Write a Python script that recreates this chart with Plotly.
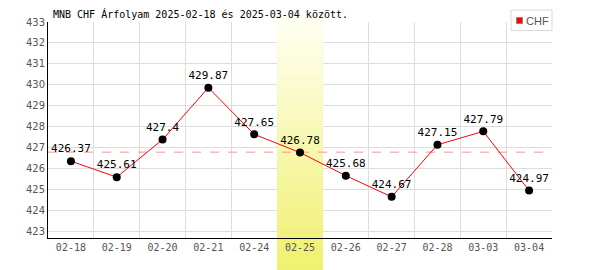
import plotly.graph_objects as go

dates = ["02-18", "02-19", "02-20", "02-21", "02-24", "02-25", "02-26", "02-27", "02-28", "03-03", "03-04"]
rates = [426.37, 425.61, 427.4, 429.87, 427.65, 426.78, 425.68, 424.67, 427.15, 427.79, 424.97]
labels = ["426.37", "425.61", "427.4", "429.87", "427.65", "426.78", "425.68", "424.67", "427.15", "427.79", "424.97"]
avg_rate = 426.8
highlight = "02-25"
y_ticks = list(range(423, 434))
y_range = [422.71, 433.0]
title_text = "MNB CHF Árfolyam 2025-02-18 és 2025-03-04 között."
series_name = "CHF"

W, H = 600, 270
L, R, T, B = 48, 48, 22, 32
PW, PH = W - L - R, H - T - B


def px_x(x):
    return (x - L) / PW


def px_y(y):
    return 1 - (y - T) / PH


def px_to_data_y(py):
    return y_range[0] + px_y(py) * (y_range[1] - y_range[0])


fig = go.Figure()
fig.add_trace(go.Scatter(
    x=dates, y=rates, mode="lines+markers+text",
    text=labels, textposition="top center",
    textfont=dict(family="DejaVu Sans Mono", size=11, color="black"),
    line=dict(color="red", width=1),
    marker=dict(color="black", size=8),
    showlegend=False, cliponaxis=False,
))

# gradient band for highlighted day
hi = dates.index(highlight)
top_px, bot_px = 16, 270
c0 = (255, 255, 243)
c1 = (240, 240, 110)
step = 2
for y_top in range(top_px, bot_px, step):
    t = (y_top - top_px) / (bot_px - top_px)
    col = "rgb(%d,%d,%d)" % tuple(round(c0[k] + (c1[k] - c0[k]) * t) for k in range(3))
    # paper-referenced strip (covers area outside the plot)
    fig.add_shape(type="rect", xref="x", yref="paper",
                  x0=hi - 0.5, x1=hi + 0.5,
                  y0=px_y(y_top + step + 0.6), y1=px_y(y_top),
                  fillcolor=col, line_width=0, layer="below")
    # axis-referenced strip (drawn above gridlines inside the plot)
    fig.add_shape(type="rect", xref="x", yref="y",
                  x0=hi - 0.5, x1=hi + 0.5,
                  y0=px_to_data_y(y_top + step + 0.6), y1=px_to_data_y(y_top),
                  fillcolor=col, line_width=0, layer="between")

fig.add_shape(type="line", xref="x", yref="y", x0=-0.5, x1=len(dates) - 0.5,
              y0=avg_rate, y1=avg_rate,
              line=dict(color="#ff9090", width=1, dash="dash"), layer="between")

# manual legend box
fig.add_shape(type="rect", xref="paper", yref="paper",
              x0=px_x(511), x1=px_x(552), y0=px_y(30.5), y1=px_y(10),
              fillcolor="white", line=dict(color="#d8d8d8", width=1), layer="above")
fig.add_shape(type="rect", xref="paper", yref="paper",
              x0=px_x(516.5), x1=px_x(522.5), y0=px_y(23.5), y1=px_y(17.5),
              fillcolor="red", line=dict(color="#888", width=1), layer="above")
fig.add_annotation(xref="paper", yref="paper", x=px_x(524), y=px_y(20.5),
                   xanchor="left", yanchor="middle", showarrow=False, text=series_name,
                   font=dict(family="Liberation Sans", size=11, color="#555"))

fig.update_layout(
    width=W, height=H,
    margin=dict(l=L, r=R, t=T, b=B),
    paper_bgcolor="white", plot_bgcolor="white",
    showlegend=False,
    title=dict(text=title_text, x=53 / W, xanchor="left", y=1 - 14 / H, yanchor="middle",
               font=dict(family="DejaVu Sans Mono", size=10, color="black")),
    xaxis=dict(type="category", range=[-0.5, len(dates) - 0.5], tickson="boundaries",
               showgrid=True, gridcolor="#dddddd", gridwidth=1,
               showline=True, linecolor="black", linewidth=1, ticks="",
               tickfont=dict(family="DejaVu Sans Mono", size=10, color="#555")),
    yaxis=dict(range=y_range, tickvals=y_ticks,
               showgrid=True, gridcolor="#dddddd", gridwidth=1, zeroline=False,
               showline=True, linecolor="black", linewidth=1, ticks="",
               tickfont=dict(family="DejaVu Sans", size=10, color="#555")),
)

fig.write_html("out.html")
